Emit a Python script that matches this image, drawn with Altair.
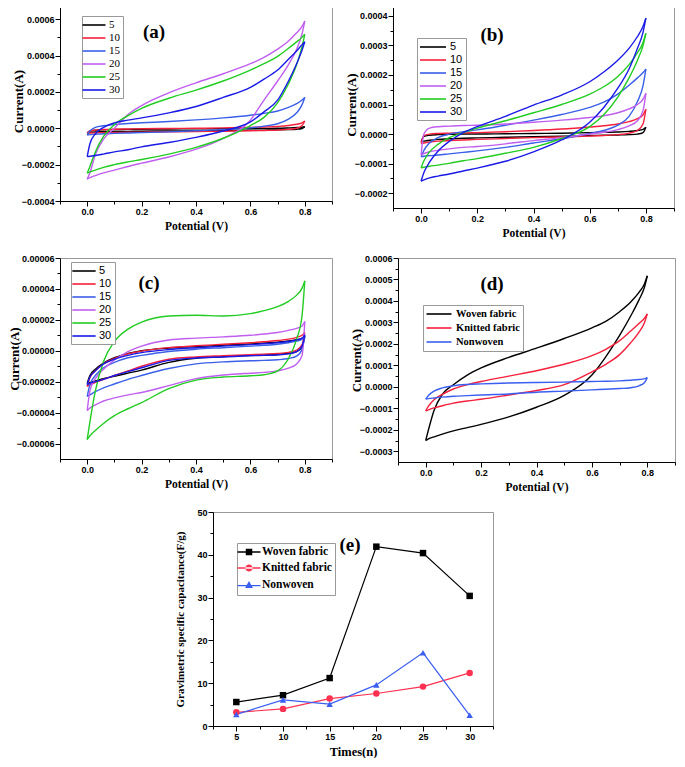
import altair as alt
import pandas as pd

SERIF = "Liberation Serif"
SANS = "Liberation Sans"

V_GRID = [0.0, 0.01, 0.03, 0.06, 0.1, 0.15, 0.2, 0.3, 0.4, 0.5, 0.6, 0.65, 0.7, 0.74, 0.77, 0.79, 0.8]

SCANS = ["5", "10", "15", "20", "25", "30"]
SCAN_COLORS = ["#000000", "#f5203c", "#3a5fe8", "#c05ef0", "#22cc22", "#1a1ae6"]

# ---- panel (a): current in 1e-4 A, forward (up) and reverse (dn) branches
a5_up = [-0.25, -0.15, -0.1, -0.08, -0.07, -0.06, -0.05, -0.04, -0.03, -0.02, -0.01, -0.005, 0.0, 0.02, 0.04, 0.06, 0.09]
a5_dn = [-0.25, -0.22, -0.2, -0.19, -0.18, -0.17, -0.16, -0.15, -0.14, -0.13, -0.11, -0.1, -0.09, -0.07, -0.05, -0.01, 0.09]
a10_up = [-0.27, -0.15, -0.1, -0.07, -0.05, -0.04, -0.03, -0.01, 0.0, 0.02, 0.05, 0.07, 0.1, 0.15, 0.22, 0.3, 0.4]
a10_dn = [-0.27, -0.26, -0.25, -0.24, -0.23, -0.22, -0.21, -0.2, -0.18, -0.16, -0.14, -0.12, -0.1, -0.06, 0.0, 0.15, 0.4]
a15_up = [-0.37, -0.15, 0.05, 0.14, 0.2, 0.26, 0.3, 0.37, 0.46, 0.57, 0.72, 0.82, 0.95, 1.15, 1.35, 1.55, 1.7]
a15_dn = [-0.37, -0.35, -0.33, -0.3, -0.28, -0.26, -0.24, -0.2, -0.14, -0.07, 0.02, 0.12, 0.25, 0.5, 0.85, 1.3, 1.7]
a20_up = [-2.8, -2.45, -1.45, -0.6, 0.0, 0.75, 1.25, 1.95, 2.5, 3.0, 3.55, 3.9, 4.35, 4.8, 5.25, 5.6, 5.9]
a20_dn = [-2.8, -2.72, -2.6, -2.45, -2.3, -2.1, -1.92, -1.58, -1.15, -0.55, 0.45, 1.55, 2.6, 3.5, 4.35, 5.2, 5.9]
a25_up = [-2.47, -2.1, -1.3, -0.45, 0.2, 0.7, 1.1, 1.65, 2.1, 2.6, 3.2, 3.55, 3.95, 4.4, 4.75, 5.0, 5.17]
a25_dn = [-2.47, -2.4, -2.3, -2.15, -2.0, -1.85, -1.72, -1.42, -1.05, -0.55, 0.15, 0.6, 1.4, 2.45, 3.5, 4.5, 5.17]
a30_up = [-1.56, -0.85, -0.3, 0.05, 0.3, 0.45, 0.57, 0.85, 1.2, 1.7, 2.25, 2.7, 3.2, 3.8, 4.25, 4.6, 4.76]
a30_dn = [-1.56, -1.54, -1.5, -1.42, -1.3, -1.18, -1.02, -0.78, -0.5, -0.15, 0.35, 0.9, 1.55, 2.6, 3.55, 4.3, 4.76]

# ---- panel (b): 1e-4 A
b5_up = [-0.26, -0.08, -0.04, -0.02, -0.01, 0.0, 0.0, 0.01, 0.02, 0.03, 0.05, 0.06, 0.07, 0.09, 0.12, 0.16, 0.23]
b5_dn = [-0.26, -0.24, -0.21, -0.18, -0.16, -0.14, -0.13, -0.11, -0.09, -0.07, -0.05, -0.04, -0.03, -0.02, 0.0, 0.05, 0.23]
b10_up = [-0.32, -0.05, 0.0, 0.02, 0.03, 0.04, 0.05, 0.08, 0.12, 0.17, 0.24, 0.28, 0.34, 0.42, 0.52, 0.65, 0.84]
b10_dn = [-0.32, -0.3, -0.27, -0.24, -0.22, -0.2, -0.18, -0.15, -0.12, -0.1, -0.07, -0.05, -0.02, 0.03, 0.12, 0.35, 0.84]
b15_up = [-0.77, -0.55, -0.3, -0.12, 0.0, 0.08, 0.14, 0.3, 0.47, 0.66, 0.9, 1.08, 1.35, 1.65, 1.9, 2.08, 2.2]
b15_dn = [-0.77, -0.75, -0.73, -0.71, -0.67, -0.62, -0.57, -0.45, -0.3, -0.16, 0.02, 0.12, 0.3, 0.6, 1.1, 1.65, 2.2]
b20_up = [-0.71, 0.0, 0.2, 0.25, 0.27, 0.29, 0.3, 0.34, 0.4, 0.47, 0.56, 0.62, 0.72, 0.85, 1.0, 1.18, 1.38]
b20_dn = [-0.71, -0.66, -0.6, -0.55, -0.5, -0.45, -0.42, -0.33, -0.22, -0.12, 0.0, 0.06, 0.15, 0.28, 0.45, 0.8, 1.38]
b25_up = [-1.14, -0.9, -0.6, -0.35, -0.12, 0.05, 0.2, 0.45, 0.72, 1.0, 1.35, 1.6, 1.95, 2.35, 2.75, 3.1, 3.41]
b25_dn = [-1.14, -1.12, -1.09, -1.05, -0.99, -0.9, -0.83, -0.65, -0.45, -0.15, 0.25, 0.65, 1.25, 1.9, 2.5, 3.0, 3.41]
b30_up = [-1.59, -1.3, -0.95, -0.58, -0.25, 0.05, 0.25, 0.6, 0.98, 1.32, 1.77, 2.1, 2.5, 2.9, 3.3, 3.65, 3.92]
b30_dn = [-1.59, -1.55, -1.48, -1.42, -1.35, -1.25, -1.15, -0.92, -0.6, -0.2, 0.4, 0.9, 1.55, 2.2, 2.9, 3.45, 3.92]

# ---- panel (c): 1e-5 A
c5_up = [-2.1, -1.6, -1.2, -0.8, -0.45, -0.18, 0.0, 0.18, 0.28, 0.36, 0.44, 0.5, 0.56, 0.63, 0.72, 0.8, 0.92]
c5_dn = [-2.1, -2.05, -1.95, -1.8, -1.65, -1.45, -1.25, -0.75, -0.48, -0.38, -0.3, -0.27, -0.23, -0.16, -0.05, 0.25, 0.92]
c10_up = [-2.3, -1.75, -1.3, -0.85, -0.5, -0.2, -0.02, 0.2, 0.32, 0.42, 0.52, 0.58, 0.66, 0.75, 0.87, 1.0, 1.18]
c10_dn = [-2.3, -2.2, -2.05, -1.85, -1.6, -1.3, -1.0, -0.55, -0.4, -0.32, -0.25, -0.22, -0.18, -0.1, 0.05, 0.4, 1.18]
c15_up = [-2.95, -2.2, -1.6, -1.1, -0.75, -0.45, -0.3, -0.05, 0.1, 0.2, 0.3, 0.35, 0.42, 0.52, 0.62, 0.75, 0.97]
c15_dn = [-2.95, -2.85, -2.65, -2.4, -2.15, -1.85, -1.6, -1.15, -0.85, -0.72, -0.65, -0.62, -0.58, -0.5, -0.35, 0.1, 0.97]
c20_up = [-3.87, -2.6, -1.8, -1.2, -0.6, -0.05, 0.3, 0.7, 0.82, 0.9, 1.0, 1.08, 1.18, 1.32, 1.45, 1.6, 1.89]
c20_dn = [-3.87, -3.7, -3.5, -3.25, -3.05, -2.85, -2.7, -2.25, -1.8, -1.57, -1.45, -1.4, -1.3, -1.12, -0.85, -0.3, 1.89]
c25_up = [-5.74, -4.6, -2.6, -0.7, 0.6, 1.4, 1.85, 2.25, 2.3, 2.25, 2.4, 2.6, 2.85, 3.2, 3.6, 4.05, 4.52]
c25_dn = [-5.74, -5.5, -5.15, -4.7, -4.2, -3.75, -3.35, -2.45, -1.9, -1.7, -1.62, -1.55, -1.3, -0.5, 0.75, 2.3, 4.52]
c30_up = [-2.19, -1.7, -1.3, -0.85, -0.55, -0.3, -0.12, 0.08, 0.2, 0.3, 0.4, 0.45, 0.52, 0.6, 0.7, 0.82, 1.03]
c30_dn = [-2.19, -2.1, -2.0, -1.85, -1.6, -1.35, -1.1, -0.62, -0.47, -0.4, -0.32, -0.3, -0.27, -0.2, -0.05, 0.3, 1.03]

# ---- panel (d): 1e-4 A
FABRICS = ["Woven fabric", "Knitted fabric", "Nonwoven"]
FABRIC_COLORS = ["#000000", "#f5203c", "#3a5ef0"]
d_woven_up = [-2.5, -2.0, -1.1, -0.35, 0.1, 0.55, 0.88, 1.37, 1.8, 2.25, 2.75, 3.05, 3.5, 3.95, 4.4, 4.8, 5.17]
d_woven_dn = [-2.5, -2.42, -2.33, -2.2, -2.05, -1.9, -1.75, -1.4, -0.95, -0.4, 0.55, 1.4, 2.4, 3.3, 4.05, 4.65, 5.17]
d_knit_up = [-1.12, -0.9, -0.6, -0.35, -0.1, 0.1, 0.25, 0.5, 0.75, 1.05, 1.45, 1.75, 2.15, 2.6, 2.95, 3.2, 3.4]
d_knit_dn = [-1.12, -1.07, -0.98, -0.88, -0.76, -0.66, -0.58, -0.38, -0.17, 0.1, 0.7, 1.05, 1.5, 2.05, 2.55, 3.0, 3.4]
d_non_up = [-0.57, -0.4, -0.2, -0.05, 0.05, 0.11, 0.14, 0.18, 0.2, 0.22, 0.25, 0.26, 0.28, 0.31, 0.34, 0.38, 0.43]
d_non_dn = [-0.57, -0.55, -0.52, -0.48, -0.44, -0.41, -0.38, -0.33, -0.25, -0.2, -0.14, -0.11, -0.08, -0.04, 0.05, 0.2, 0.43]

# ---- panel (e)
E_TIMES = [5, 10, 15, 20, 25, 30]
E_WOVEN = [5.6, 7.2, 11.2, 41.9, 40.4, 30.4]
E_KNITTED = [3.2, 4.0, 6.4, 7.6, 9.2, 12.4]
E_NONWOVEN = [2.7, 6.1, 5.1, 9.6, 17.1, 2.5]
E_COLORS = ["#000000", "#ff3050", "#3a5ef0"]

# ---- ticks
CV_X_TICKS = [-0.1, 0.0, 0.1, 0.2, 0.3, 0.4, 0.5, 0.6, 0.7, 0.8, 0.9]
A_Y_TICKS = [-0.0004, -0.0003, -0.0002, -0.0001, 0.0, 0.0001, 0.0002, 0.0003, 0.0004, 0.0005, 0.0006]
B_Y_TICKS = [-0.0002, -0.00015, -0.0001, -0.00005, 0.0, 0.00005, 0.0001, 0.00015, 0.0002,
             0.00025, 0.0003, 0.00035, 0.0004]
C_Y_TICKS = [-0.00006, -0.00005, -0.00004, -0.00003, -0.00002, -0.00001, 0.0, 0.00001,
             0.00002, 0.00003, 0.00004, 0.00005, 0.00006]
D_Y_TICKS = [-0.0003, -0.00025, -0.0002, -0.00015, -0.0001, -0.00005, 0.0, 0.00005, 0.0001,
             0.00015, 0.0002, 0.00025, 0.0003, 0.00035, 0.0004, 0.00045, 0.0005, 0.00055, 0.0006]
E_X_TICKS = [2.5, 5, 7.5, 10, 12.5, 15, 17.5, 20, 22.5, 25, 27.5, 30, 32.5]
E_Y_TICKS = [0, 5, 10, 15, 20, 25, 30, 35, 40, 45, 50]


def loop_frame(names, ups, downs, unit):
    rows = []
    for name, up, dn in zip(names, ups, downs):
        for branch, vals in (("forward", up), ("reverse", dn)):
            for v, i in zip(V_GRID, vals):
                rows.append({"scan": name, "branch": branch, "V": v, "I": i * unit})
    return pd.DataFrame(rows)


def tick_axis(title, values, test, fmt, title_size, title_pad, orient, extent=None):
    kw = dict(
        title=title, values=values, orient=orient,
        labelExpr=f"({test}) ? format(datum.value, '{fmt}') : ''",
        tickSize={"condition": {"test": test, "value": 5}, "value": 3},
        labelOverlap=False, titleFontSize=title_size, titlePadding=title_pad,
    )
    if extent is not None:
        kw["minExtent"] = extent
        kw["maxExtent"] = extent
    return alt.Axis(**kw)


def box_legend(x, y, sym_off, lab_off, font, size, weight, path=None):
    kw = dict(orient="none", legendX=x, legendY=y, title=None, symbolSize=100,
              symbolStrokeWidth=1.6, symbolOffset=sym_off, labelOffset=lab_off,
              labelFont=font, labelFontSize=size, labelFontWeight=weight,
              labelColor="black", strokeColor="#999999", fillColor="white",
              padding=3, rowPadding=2, labelLimit=300, symbolOpacity=1)
    if path is not None:
        kw["symbolType"] = path
    return alt.Legend(**kw)


def tag_layer(tag, x, y):
    return alt.Chart(pd.DataFrame({"tag": [tag]})).mark_text(
        font=SERIF, fontWeight="bold", fontSize=19, color="black"
    ).encode(text="tag:N", x=alt.value(x), y=alt.value(y))


def cv_panel(df, names, colors, ydomain, yticks, ytest, yfmt, width, height,
             legend, tag, tag_xy, y_extent):
    lines = alt.Chart(df).mark_line(strokeWidth=1.4, interpolate="monotone").encode(
        x=alt.X("V:Q", scale=alt.Scale(domain=[-0.1, 0.9], nice=False, zero=False),
                axis=tick_axis("Potential (V)", CV_X_TICKS,
                               "abs(round(datum.value*10)) % 2 == 0", ".1f", 11.5, 4, "bottom")),
        y=alt.Y("I:Q", scale=alt.Scale(domain=ydomain, nice=False, zero=False),
                axis=tick_axis("Current(A)", yticks, ytest, yfmt, 13, 2, "left", y_extent)),
        color=alt.Color("scan:N", scale=alt.Scale(domain=names, range=colors), legend=legend),
        detail="branch:N",
    )
    return alt.layer(lines, tag_layer(tag, *tag_xy)).properties(width=width, height=height)


df_a = loop_frame(SCANS, [a5_up, a10_up, a15_up, a20_up, a25_up, a30_up],
                  [a5_dn, a10_dn, a15_dn, a20_dn, a25_dn, a30_dn], 1e-4)
df_b = loop_frame(SCANS, [b5_up, b10_up, b15_up, b20_up, b25_up, b30_up],
                  [b5_dn, b10_dn, b15_dn, b20_dn, b25_dn, b30_dn], 1e-4)
df_c = loop_frame(SCANS, [c5_up, c10_up, c15_up, c20_up, c25_up, c30_up],
                  [c5_dn, c10_dn, c15_dn, c20_dn, c25_dn, c30_dn], 1e-5)
df_d = loop_frame(FABRICS, [d_woven_up, d_knit_up, d_non_up],
                  [d_woven_dn, d_knit_dn, d_non_dn], 1e-4)

panel_a = cv_panel(df_a, SCANS, SCAN_COLORS, [-0.0004, 0.0007], A_Y_TICKS,
                   "abs(round(datum.value*10000)) % 2 == 0", ".4f", 272, 200,
                   box_legend(22, 15, 3, 9, SERIF, 11, "normal", "M-2.3,0H2.3"),
                   "(a)", (94, 31), 33)
panel_b = cv_panel(df_b, SCANS, SCAN_COLORS, [-0.00025, 0.00045], B_Y_TICKS,
                   "abs(round(datum.value*20000)) % 2 == 0", ".4f", 281, 207,
                   box_legend(24, 37, 7, 11, SANS, 11, "normal", "M-2.6,0H2.6"),
                   "(b)", (99, 34), 33)
panel_c = cv_panel(df_c, SCANS, SCAN_COLORS, [-0.00007, 0.00006], C_Y_TICKS,
                   "abs(round(datum.value*100000)) % 2 == 0", ".5f", 272, 201,
                   box_legend(11, 4, 4, 9, SANS, 11, "normal", "M-2.33,0H2.33"),
                   "(c)", (89, 25), 37)
panel_d = cv_panel(df_d, FABRICS, FABRIC_COLORS, [-0.00035, 0.0006], D_Y_TICKS,
                   "abs(round(datum.value*20000)) % 2 == 0", ".4f", 277, 204,
                   box_legend(25, 47, 7, 11, SERIF, 10.5, "bold", "M-2.5,0H2.5"),
                   "(d)", (94, 26), 33)

# ---- panel (e)
df_e = pd.DataFrame({
    "Times": E_TIMES * 3,
    "C": E_WOVEN + E_KNITTED + E_NONWOVEN,
    "material": [FABRICS[0]] * 6 + [FABRICS[1]] * 6 + [FABRICS[2]] * 6,
})
ex = alt.X("Times:Q", scale=alt.Scale(domain=[2.5, 32.5], nice=False, zero=False),
           axis=tick_axis("Times(n)", E_X_TICKS, "datum.value % 5 == 0", "d", 12.5, 4, "bottom"))
ey = alt.Y("C:Q", scale=alt.Scale(domain=[0, 50], nice=False),
           axis=tick_axis("Gravimetric specific capacitance(F/g)", E_Y_TICKS,
                          "datum.value % 10 == 0", "d", 11, 12, "left", 16))
e_color_scale = alt.Scale(domain=FABRICS, range=E_COLORS)

# legend keys: a short line with the series marker on it (filled paths)
SQUARE_KEY = "M-2.3,-0.13H2.3V0.13H-2.3ZM-0.65,-0.65H0.65V0.65H-0.65Z"
CIRCLE_KEY = "M-2.3,-0.13H2.3V0.13H-2.3ZM-0.72,0A0.72,0.72 0 1,0 0.72,0A0.72,0.72 0 1,0 -0.72,0Z"
TRIANGLE_KEY = "M-2.3,0.0H2.3V0.26H-2.3ZM0,-0.78L0.78,0.58H-0.78Z"

e_line = alt.Chart(df_e).mark_line(strokeWidth=1.2).encode(
    x=ex, y=ey, color=alt.Color("material:N", scale=e_color_scale, legend=None))
e_pts = alt.Chart(df_e).mark_point(filled=True, size=42, opacity=1).encode(
    x=ex, y=ey,
    color=alt.Color("material:N", scale=e_color_scale, legend=None),
    shape=alt.Shape("material:N", scale=alt.Scale(domain=FABRICS, range=["square", "circle", "triangle-up"]),
                    legend=None))
e_leg_props = box_legend(24, 31, 3, 7, SERIF, 11.5, "bold")
e_key = alt.Chart(df_e).transform_filter("false").mark_point(filled=True, opacity=1).encode(
    x=ex, y=ey,
    color=alt.Color("material:N", scale=e_color_scale, legend=e_leg_props),
    shape=alt.Shape("material:N", scale=alt.Scale(domain=FABRICS, range=[SQUARE_KEY, CIRCLE_KEY, TRIANGLE_KEY]),
                    legend=e_leg_props))
panel_e = alt.layer(e_line, e_pts, e_key, tag_layer("(e)", 137, 33)).resolve_scale(
    color="independent", shape="independent").properties(width=280, height=214)

spacer = alt.Chart(pd.DataFrame({"t": [""]})).mark_text().encode(text="t:N").properties(
    width=113, height=20, view=alt.ViewBackground(strokeOpacity=0))

row1 = alt.hconcat(panel_a, panel_b, spacing=11).resolve_scale(color="independent")
row2 = alt.hconcat(panel_c, panel_d, spacing=16).resolve_scale(color="independent")
row3 = alt.hconcat(spacer, panel_e, spacing=0).resolve_scale(color="independent", shape="independent")

chart = alt.vconcat(row1, row2, row3, spacing=14).resolve_scale(
    color="independent", shape="independent"
).properties(
    padding={"left": -1, "top": -8, "right": 0, "bottom": 0}
).configure_view(
    stroke="#999999", strokeWidth=1
).configure_axis(
    domainColor="black", tickColor="black", labelColor="black", titleColor="black",
    labelFont=SANS, labelFontWeight="bold", labelFontSize=9, titleFont=SERIF,
    titleFontWeight="bold", labelPadding=1, grid=False, labelFlush=False,
    domainWidth=1, tickWidth=1,
)

chart.save("out.html", embed_options={"renderer": "svg", "actions": False})
